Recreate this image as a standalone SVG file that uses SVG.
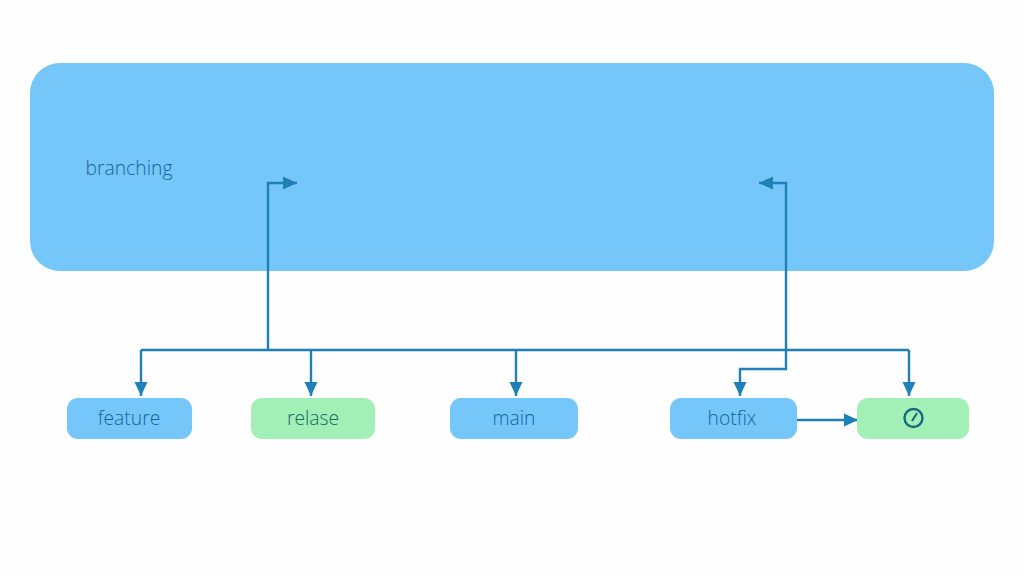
<svg xmlns="http://www.w3.org/2000/svg" width="1024" height="576" viewBox="0 0 1024 576">
<style>
text{font-family:"Open Sans","Noto Sans",sans-serif;font-weight:300;font-size:19.300px;text-anchor:middle;fill:#15669b}
.b{fill:#75c6f9}.g{fill:#a2f0b6}
.c{fill:none;stroke:#1e80b6;stroke-width:2.400}
text.t{fill:#156a68}
</style>
<defs>
<marker id="a" markerUnits="userSpaceOnUse" markerWidth="15" markerHeight="14" refX="14" refY="7" orient="auto-start-reverse"><path d="M0 0.500L14 7L0 13.500Z" fill="#1e80b6"/></marker>
</defs>
<rect width="1024" height="576" fill="#fefefe"/>
<g id="branching"><rect class="b" x="30" y="63" width="964" height="208" rx="30"/><text x="129" y="175">branching</text></g>
<g id="connectors">
<path class="c" d="M141 350H909"/>
<path class="c" d="M141 350V396" marker-end="url(#a)"/>
<path class="c" d="M311 350V396" marker-end="url(#a)"/>
<path class="c" d="M516 350V396" marker-end="url(#a)"/>
<path class="c" d="M909 350V396" marker-end="url(#a)"/>
<path class="c" d="M268 350V183H297" marker-end="url(#a)"/>
<path class="c" d="M740 396V369H786V183H759" marker-start="url(#a)" marker-end="url(#a)"/>
<path class="c" d="M797 420H858" marker-end="url(#a)"/>
</g>
<g id="feature"><rect class="b" x="67" y="398" width="125" height="41" rx="11"/><text x="129" y="425">feature</text></g>
<g id="relase"><rect class="g" x="251" y="398" width="124" height="41" rx="11"/><text class="t" x="313" y="425">relase</text></g>
<g id="main"><rect class="b" x="450" y="398" width="128" height="41" rx="11"/><text x="514" y="425">main</text></g>
<g id="hotfix"><rect class="b" x="670" y="398" width="127" height="41" rx="11"/><text x="732" y="425">hotfix</text></g>
<g id="gauge"><rect class="g" x="857" y="398" width="112" height="41" rx="11"/><circle cx="913.500" cy="418" r="9" fill="none" stroke="#17697f" stroke-width="2.400"/><path d="M912 421L917 413" fill="none" stroke="#17697f" stroke-width="2"/></g>
</svg>
